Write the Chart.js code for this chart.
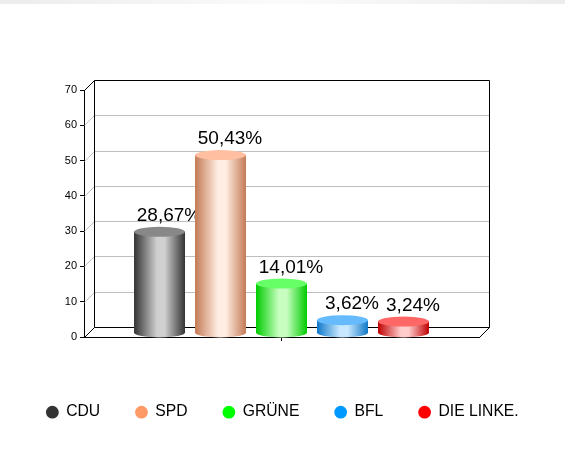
<!DOCTYPE html>
<html>
<head>
<meta charset="utf-8">
<script src="https://cdn.jsdelivr.net/npm/chart.js@4"></script>
<style>
  html, body { margin: 0; padding: 0; background: #fff; }
  #top { position: absolute; left: 0; top: 0; width: 565px; height: 4px;
         background: linear-gradient(to right, #ececec, #fbfbfb 50%, #ececec); }
  #wrap { position: absolute; left: 0; top: 0; width: 565px; height: 450px; }
</style>
</head>
<body>
<div id="top"></div>
<div id="wrap"><canvas id="chart" width="565" height="450"></canvas></div>
<script>
const parties = ["CDU", "SPD", "GRÜNE", "BFL", "DIE LINKE."];
const shares = [28.67, 50.43, 14.01, 3.62, 3.24];
const legendColors = ["#333333", "#FF9966", "#00FF00", "#0099FF", "#FF0000"];
const edgeColors = ["#333333", "#C47A55", "#00CC00", "#0F78C8", "#C00000"];
const lightColors = ["#D0D0D0", "#FFEDE3", "#C8FFC0", "#C8E8FF", "#FFCCCC"];
const capColors = ["#888888", "#FFBFA0", "#66FF66", "#66BBFF", "#FF6666"];

const depth = 10;
const barLift = 4;

// back wall, side wall and floor of the 3d box
const box3d = {
  id: "box3d",
  beforeDatasetsDraw(chart) {
    const c = chart.ctx;
    const y = chart.scales.y;
    const a = chart.chartArea;
    const line = (x1, y1, x2, y2, color) => {
      c.strokeStyle = color;
      c.beginPath();
      c.moveTo(Math.round(x1) + 0.5, Math.round(y1) + 0.5);
      c.lineTo(Math.round(x2) + 0.5, Math.round(y2) + 0.5);
      c.stroke();
    };
    c.save();
    c.lineWidth = 1;
    y.ticks.forEach((t) => {
      const py = y.getPixelForValue(t.value);
      const edge = t.value == 0 || t.value == y.max;
      line(a.left, py, a.left + depth, py - depth, edge ? "#000" : "#BEBEBE");
      if (!edge) line(a.left + depth, py - depth, a.right + depth, py - depth, "#BEBEBE");
    });
    const top = y.getPixelForValue(y.max) - depth;
    const floor = y.getPixelForValue(0) - depth;
    line(a.left + depth, top, a.right + depth, top, "#000");
    line(a.left + depth, top, a.left + depth, floor, "#000");
    line(a.right + depth, top, a.right + depth, floor, "#000");
    line(a.left + depth, floor, a.right + depth, floor, "#000");
    line(a.right, floor + depth, a.right + depth, floor, "#000");
    c.restore();
  },
  beforeDatasetDraw(chart, args) {
    const c = chart.ctx;
    const i = args.index;
    const el = args.meta.data[0];
    const g = c.createLinearGradient(el.x - el.width / 2, 0, el.x + el.width / 2, 0);
    g.addColorStop(0, edgeColors[i]);
    g.addColorStop(0.45, lightColors[i]);
    g.addColorStop(0.6, lightColors[i]);
    g.addColorStop(1, edgeColors[i]);
    el.options = Object.assign({}, el.options, { backgroundColor: g });
    // bars stand in the middle of the box depth
    c.save();
    c.translate(0, -barLift);
  },
  afterDatasetDraw(chart, args) {
    const c = chart.ctx;
    const i = args.index;
    const el = args.meta.data[0];
    const rx = el.width / 2;
    const ry = depth / 2;
    c.fillStyle = el.options.backgroundColor;
    c.beginPath();
    c.ellipse(el.x, el.base, rx, ry, 0, 0, Math.PI * 2);
    c.fill();
    c.fillStyle = capColors[i];
    c.beginPath();
    c.ellipse(el.x, el.y, rx, ry, 0, 0, Math.PI * 2);
    c.fill();
    c.restore();
    // in the reference the next bar covers this label, chart.js paints last dataset first
    c.save();
    if (i + 1 < parties.length) {
      const next = chart.getDatasetMeta(i + 1).data[0];
      c.beginPath();
      c.rect(0, 0, chart.width, chart.height);
      c.rect(next.x - next.width / 2, next.y - depth, next.width, next.base - next.y + depth);
      c.clip("evenodd");
    }
    c.fillStyle = "#000";
    c.font = '19px "Liberation Sans"';
    c.textAlign = "center";
    c.textBaseline = "alphabetic";
    c.fillText(shares[i].toFixed(2).replace(".", ",") + "%", el.x + 9.5, el.y - 15);
    c.restore();
  },
};

new Chart(document.getElementById("chart").getContext("2d"), {
  type: "bar",
  data: {
    labels: [""],
    datasets: parties.map((name, i) => ({
      label: name,
      data: [shares[i]],
      backgroundColor: legendColors[i],
      borderWidth: 0,
      categoryPercentage: 0.772,
      barPercentage: 0.836,
    })),
  },
  options: {
    responsive: false,
    animation: false,
    layout: { padding: { top: 90, right: 0, bottom: 20, left: 0 } },
    plugins: {
      tooltip: { enabled: false },
      legend: {
        position: "bottom",
        labels: {
          usePointStyle: true,
          pointStyle: "circle",
          boxWidth: 12,
          boxHeight: 9,
          padding: 35.3,
          color: "#000",
          font: { family: "Liberation Sans", size: 15.7 },
        },
      },
    },
    scales: {
      x: {
        afterFit: (s) => { s.height = 32; },
        grid: { offset: false, drawOnChartArea: false, color: "#000", tickLength: 4 },
        border: { color: "#000" },
        ticks: { display: true, padding: 0, font: { size: 1 } },
      },
      y: {
        min: 0,
        max: 70,
        afterFit: (s) => { s.width = 84; },
        grid: { drawOnChartArea: false, color: "#000", tickLength: 4 },
        border: { color: "#000" },
        ticks: { stepSize: 10, padding: 3, color: "#000", font: { family: "Liberation Sans", size: 11 } },
      },
      // empty axis that only keeps the plot clear of the right side
      rightGap: {
        position: "right",
        afterFit: (s) => { s.width = 86; },
        grid: { display: false },
        border: { display: false },
        ticks: { display: false },
      },
    },
  },
  plugins: [box3d],
});
</script>
</body>
</html>
